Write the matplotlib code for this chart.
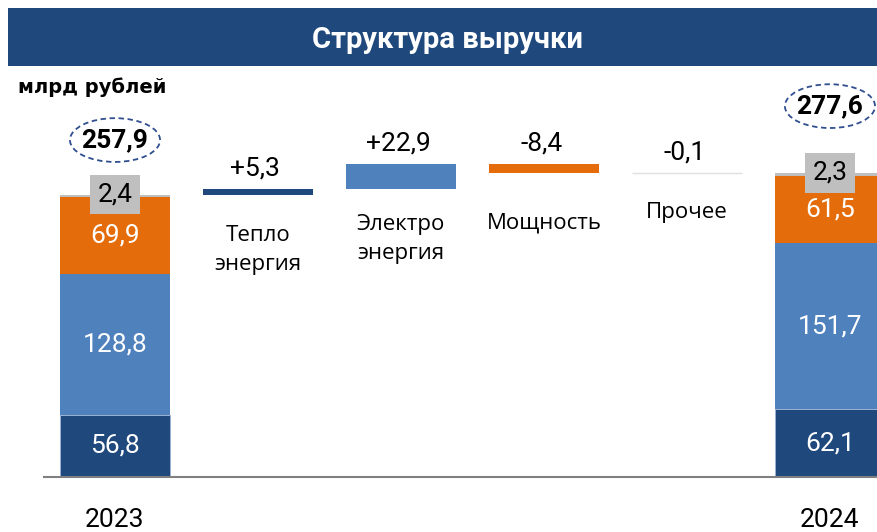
import matplotlib
matplotlib.use("Agg")
import matplotlib.pyplot as plt
from matplotlib.patches import Rectangle, Ellipse
import numpy as np

plt.rcParams['font.family'] = ['Roboto', 'DejaVu Sans']

# data
years = ["2023", "2024"]
seg_2023 = [56.8, 128.8, 69.9, 2.4]
seg_2024 = [62.1, 151.7, 61.5, 2.3]
total_2023 = 257.9
total_2024 = 277.6
change_names = ["Тепло\nэнергия", "Электро\nэнергия", "Мощность", "Прочее"]
change_vals = [5.3, 22.9, -8.4, -0.1]
change_labels = ["+5,3", "+22,9", "-8,4", "-0,1"]

dark_blue = "#1F497D"
mid_blue = "#4F81BD"
orange = "#E46C0A"
gray = "#BFBFBF"
seg_colors = [dark_blue, mid_blue, orange, gray]
change_colors = [dark_blue, mid_blue, orange, "#E0E0E0"]


def fmt(v):
    return ("%.1f" % v).replace(".", ",")


fig = plt.figure(figsize=(8.77, 5.32), dpi=100)

# title banner
fig.patches.append(Rectangle((8 / 877, 1 - 66 / 532), 1 - 8 / 877, 58 / 532,
                             transform=fig.transFigure, fc=dark_blue, ec="none"))
fig.text(0.51, 1 - 40 / 532, "Структура выручки", color="white", fontsize=21,
         fontweight="bold", ha="center", va="center")
fig.text(18 / 877, 1 - 87 / 532, "млрд рублей", fontsize=14, fontweight="bold",
         ha="left", va="center", family="DejaVu Sans")

ax = fig.add_axes([44 / 877, 55 / 532, 833 / 877, 402 / 532])
ax.set_xlim(-0.4965, 5.329)
ax.set_ylim(0, 402 / 1.094)
for s in ["top", "left", "right"]:
    ax.spines[s].set_visible(False)
ax.spines["bottom"].set_color("#808080")
ax.spines["bottom"].set_linewidth(1.5)
ax.set_xticks([])
ax.set_yticks([])

w = 0.77
xs_total = [0, 5]
for x, segs in zip(xs_total, [seg_2023, seg_2024]):
    bottom = 0
    for i, (v, c) in enumerate(zip(segs, seg_colors)):
        ax.bar(x, v, w, bottom=bottom, color=c, edgecolor="#9DB3D6" if i == 0 else "none",
               linewidth=0.6)
        if i < 3:
            ax.text(x, bottom + v / 2, fmt(v), color="black" if i == 3 else "white",
                    fontsize=19, ha="center", va="center")
        else:
            ax.text(x, bottom + v / 2 + 1.5, fmt(v), color="black", fontsize=19,
                    ha="center", va="center",
                    bbox=dict(boxstyle="square,pad=0.3", fc=gray, ec="none"))
        bottom += v

# totals in dashed ellipses
for xx, y, t in [(xs_total[0], 308, total_2023), (xs_total[1], 339, total_2024)]:
    ax.add_patch(Ellipse((xx, y), 0.63, 40, fc="white", ec="#2F4F8F",
                         ls=(0, (3, 2)), lw=1.3, clip_on=False))
    ax.text(xx, y, fmt(t), fontsize=19, fontweight="bold", ha="center",
            va="center", clip_on=False)

# waterfall changes
name_y = [207.5, 217.5, 232, 242]
level = total_2023
for i, v in enumerate(change_vals):
    x = i + 1
    lo = min(level, level + v)
    ax.bar(x, abs(v), w, bottom=lo, color=change_colors[i],
           edgecolor=change_colors[i], linewidth=1 if i == 3 else 0)
    top = max(level, level + v)
    ax.annotate(change_labels[i], (x, top), xytext=(-2, 15), textcoords="offset points",
                fontsize=19, ha="center", va="center")
    ax.text(x, name_y[i], change_names[i], fontsize=16, ha="center", va="center",
            linespacing=1.45, family=["Open Sans", "DejaVu Sans"])
    level += v

for x, y in zip(xs_total, years):
    ax.text(x, -39, y, fontsize=19, ha="center", va="center", clip_on=False)

fig.savefig("out.png", dpi=100)
